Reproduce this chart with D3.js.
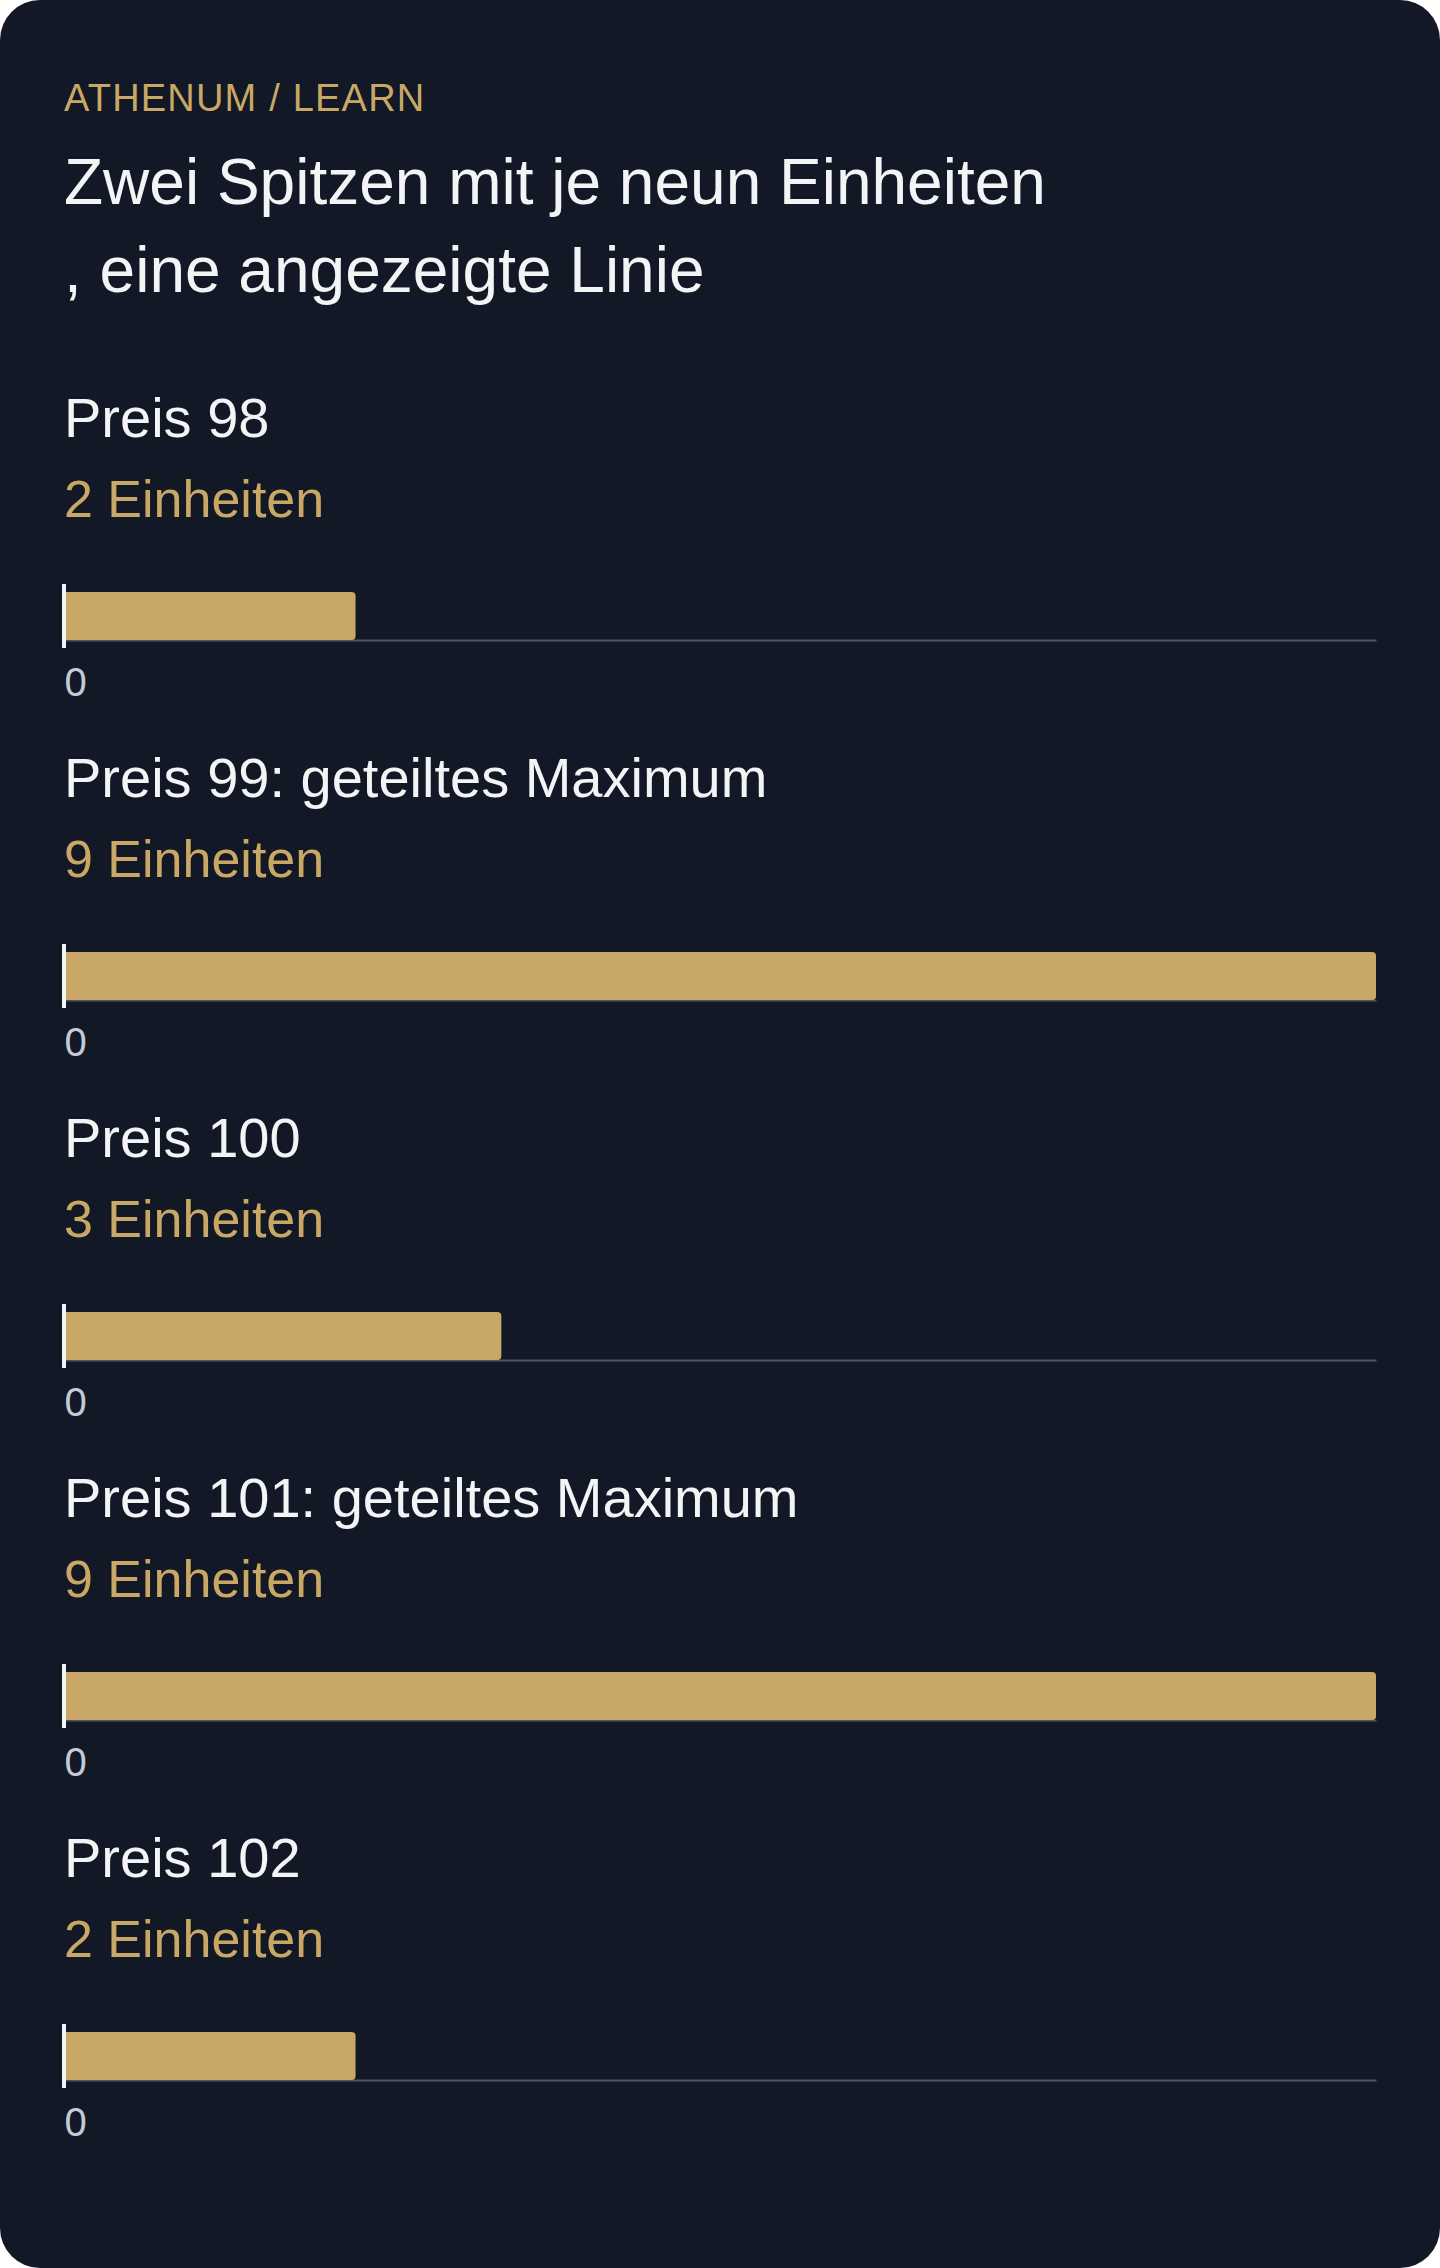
<!DOCTYPE html>
<html>
<head>
<meta charset="utf-8">
<script src="https://cdn.jsdelivr.net/npm/d3@7"></script>
<style>
  html, body { margin: 0; padding: 0; background: #ffffff; }
  svg { display: block; font-family: "Liberation Sans", Arial, sans-serif; }
</style>
</head>
<body>
<svg id="chart" width="1440" height="2268"></svg>
<script>
// data
const prices = ['Preis 98', 'Preis 99: geteiltes Maximum', 'Preis 100', 'Preis 101: geteiltes Maximum', 'Preis 102'];
const units = [2, 9, 3, 9, 2];
const unitLabels = ['2 Einheiten', '9 Einheiten', '3 Einheiten', '9 Einheiten', '2 Einheiten'];
const tickValues = [0];

const eyebrow = 'ATHENUM / LEARN';
const titleLines = ['Zwei Spitzen mit je neun Einheiten', ', eine angezeigte Linie'];

const svg = d3.select('#chart');
const width = +svg.attr('width');
const height = +svg.attr('height');

const gold = '#c9a865';
const bg = '#121826';

// card
svg.append('rect')
  .attr('width', width)
  .attr('height', height)
  .attr('rx', 40)
  .attr('fill', bg);

svg.append('text')
  .attr('x', 64)
  .attr('y', 111)
  .attr('font-size', 38)
  .attr('letter-spacing', 1.2)
  .attr('fill', gold)
  .text(eyebrow);

svg.append('text')
  .attr('font-size', 64)
  .attr('fill', '#f3f4f6')
  .selectAll('tspan')
  .data(titleLines)
  .enter()
  .append('tspan')
  .attr('x', 64)
  .attr('y', (d, i) => 204 + i * 88)
  .text(d => d);

// shared x scale for all rows
const xScale = d3.scaleLinear()
  .domain([0, d3.max(units)])
  .range([64, 1376]);

const rowStep = 360;
const barTop = 592;
const barH = 48;

const rows = svg.selectAll('g.row')
  .data(prices)
  .enter()
  .append('g')
  .attr('class', 'row')
  .attr('transform', (d, i) => `translate(0,${i * rowStep})`);

rows.append('text')
  .attr('x', 64)
  .attr('y', 437)
  .attr('font-size', 56)
  .attr('fill', '#f3f4f6')
  .text(d => d);

rows.append('text')
  .attr('x', 64)
  .attr('y', 517)
  .attr('font-size', 52)
  .attr('fill', gold)
  .text((d, i) => unitLabels[i]);

// axis with only the zero tick
rows.append('g')
  .attr('class', 'x-axis')
  .attr('transform', `translate(0,${barTop + barH})`)
  .each(function () {
    const g = d3.select(this);
    g.call(d3.axisBottom(xScale).tickValues(tickValues).tickSize(0).tickPadding(0));
    g.select('.domain').attr('stroke', '#4b5563').attr('stroke-width', 2);
    g.selectAll('.tick text')
      .attr('fill', '#c5cad3')
      .attr('font-size', 40)
      .attr('font-family', '"Liberation Sans", Arial, sans-serif')
      .attr('text-anchor', 'start')
      .attr('dx', 0)
      .attr('dy', 0)
      .attr('y', 56);
  });

// bars
rows.append('rect')
  .attr('x', xScale(0))
  .attr('y', barTop)
  .attr('width', (d, i) => xScale(units[i]) - xScale(0))
  .attr('height', barH)
  .attr('rx', 4)
  .attr('fill', gold);

// square off the left edge of each bar
rows.append('rect')
  .attr('x', xScale(0))
  .attr('y', barTop)
  .attr('width', 8)
  .attr('height', barH)
  .attr('fill', gold);

// white zero marker
rows.append('rect')
  .attr('x', xScale(0) - 2)
  .attr('y', barTop - 8)
  .attr('width', 4)
  .attr('height', barH + 16)
  .attr('fill', '#f3f4f6');
</script>
</body>
</html>
